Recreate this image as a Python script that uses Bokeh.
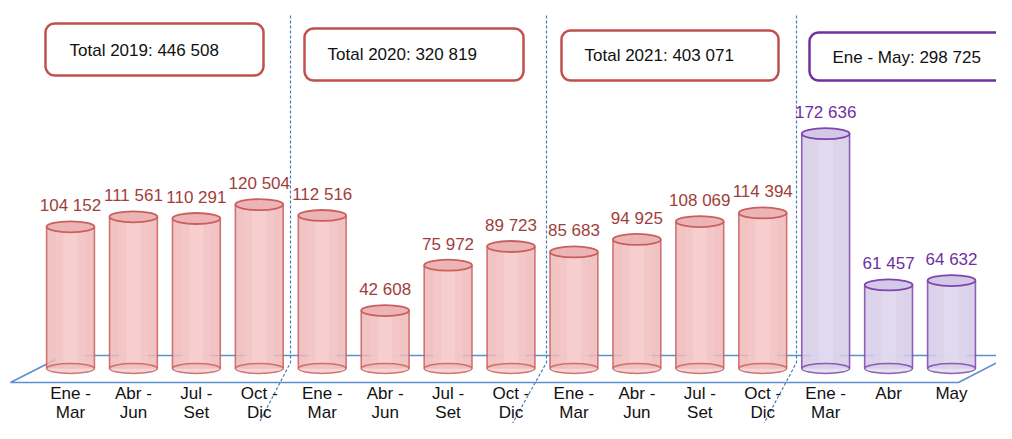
from bokeh.plotting import figure
from bokeh.models import Range1d, BoxAnnotation, ColumnDataSource
from bokeh.core.properties import value
from bokeh.embed import file_html
from bokeh.resources import INLINE

# ---------------- data ----------------
categories = ["Ene -\nMar", "Abr -\nJun", "Jul -\nSet", "Oct -\nDic",
              "Ene -\nMar", "Abr -\nJun", "Jul -\nSet", "Oct -\nDic",
              "Ene -\nMar", "Abr -\nJun", "Jul -\nSet", "Oct -\nDic",
              "Ene -\nMar", "Abr", "May"]
values_2019 = [104152, 111561, 110291, 120504]
values_2020 = [112516, 42608, 75972, 89723]
values_2021 = [85683, 94925, 108069, 114394]
values_2022 = [172636, 61457, 64632]
totals = ["Total 2019: 446 508", "Total 2020: 320 819",
          "Total 2021: 403 071", "Ene - May: 298 725"]

# ---------------- layout helpers (canvas pixels -> data) ----------------
W, H = 996, 423
STEP = 62.93          # px per category
K = 0.00136           # px per unit of value
def X(px):
    return (px - 70) / STEP
def Y(py):
    return (368 - py) / K

FONT = value("Liberation Sans")
FS = "17px"
RED_LINE = "#c0504d"
RED_TEXT = "#a03e3b"
PURPLE = "#7030a0"
BLUE = "#5b8fd0"

p = figure(width=W, height=H, output_backend="svg", toolbar_location=None,
           x_range=Range1d(X(0), X(W)), y_range=Range1d(Y(H), Y(0)),
           min_border=0, outline_line_color=None,
           x_axis_location=None, y_axis_location=None)
p.xgrid.visible = False
p.ygrid.visible = False
p.background_fill_color = "white"

# floor plane
p.patch([X(10), X(958), X(1010), X(63)], [Y(382), Y(382), Y(355), Y(355)],
        fill_color="white", fill_alpha=0.0, line_color=BLUE, line_width=1.6)

# separators
seps = [(290, 250), (546, 503), (796, 755)]
p.multi_line([[X(a), X(a), X(b)] for a, b in seps],
             [[Y(15), Y(362), Y(439)] for _ in seps],
             line_color="#4a7ebb", line_width=1.2, line_dash="3 2")

# bars
vals = values_2019 + values_2020 + values_2021 + values_2022
n_red = len(values_2019) + len(values_2020) + len(values_2021)
xs = list(range(len(vals)))
is_red = [i < n_red for i in xs]
src = ColumnDataSource(dict(
    x=xs, top=vals,
    lab=[f"{v:,}".replace(",", " ") for v in vals],
    fill=["#efb9b9" if r else "#d5cbe6" for r in is_red],
    fill2=["#f4c8c8" if r else "#ddd5ec" for r in is_red],
    fill3=["#f7d2d2" if r else "#e3dcf0" for r in is_red],
    topfill=["#ecb4b4" if r else "#d3c8e6" for r in is_red],
    edge=["#c9605e" if r else "#7e45ad" for r in is_red],
    txt=[RED_TEXT if r else PURPLE for r in is_red],
    left=[x - 0.38 for x in xs], right=[x + 0.38 for x in xs],
    zero=[0] * len(vals),
))
BW = 0.76
p.vbar(x="x", top="top", bottom=0, width=BW, source=src,
       fill_color="fill", fill_alpha=0.85, line_color=None)
p.vbar(x="x", top="top", bottom=0, width=BW * 0.62, source=src,
       fill_color="fill2", fill_alpha=0.8, line_color=None)
p.vbar(x="x", top="top", bottom=0, width=BW * 0.3, source=src,
       fill_color="fill3", fill_alpha=0.7, line_color=None)
p.ellipse(x="x", y="zero", width=BW, height=10, height_units="screen", source=src,
          fill_color="fill", fill_alpha=0.6, line_color="edge", line_width=1.4, line_alpha=0.85)
p.segment(x0="left", y0="zero", x1="left", y1="top", source=src,
          line_color="edge", line_width=1.6, line_alpha=0.85)
p.segment(x0="right", y0="zero", x1="right", y1="top", source=src,
          line_color="edge", line_width=1.6, line_alpha=0.85)
p.ellipse(x="x", y="top", width=BW, height=11, height_units="screen", source=src,
          fill_color="topfill", fill_alpha=1.0, line_color="edge", line_width=1.8)

# value labels
p.text(x="x", y="top", text="lab", source=src, y_offset=-21,
       text_align="center", text_baseline="alphabetic",
       text_font=FONT, text_font_size=FS, text_color="txt")

# category labels (two lines)
line1 = [c.split("\n")[0] for c in categories]
line2 = [c.split("\n")[1] if "\n" in c else "" for c in categories]
p.text(x=xs, y=[0] * len(xs), text=line1, y_offset=25,
       text_align="center", text_baseline="alphabetic",
       text_font=FONT, text_font_size=FS, text_color="#111111")
p.text(x=xs, y=[0] * len(xs), text=line2, y_offset=44,
       text_align="center", text_baseline="alphabetic",
       text_font=FONT, text_font_size=FS, text_color="#111111")

# total boxes
boxes = [(45, 263, 23, 75, RED_LINE), (304, 523, 28, 80, RED_LINE),
         (561, 778, 30, 80, RED_LINE), (809, 1022, 32, 80, PURPLE)]
for (l, r, t, b, c) in boxes:
    p.add_layout(BoxAnnotation(left=X(l), right=X(r), top=Y(t), bottom=Y(b),
                               fill_color=None, fill_alpha=0, line_color=c,
                               line_width=2.5, line_alpha=1, border_radius=9))
tpos = [(69, 50), (327, 54), (584, 55), (832, 57)]
p.text(x=[X(a) for a, _ in tpos], y=[Y(b) for _, b in tpos], text=totals,
       text_align="left", text_baseline="alphabetic",
       text_font=FONT, text_font_size=FS, text_color="#111111")

open("out.html", "w").write(file_html(p, INLINE))
